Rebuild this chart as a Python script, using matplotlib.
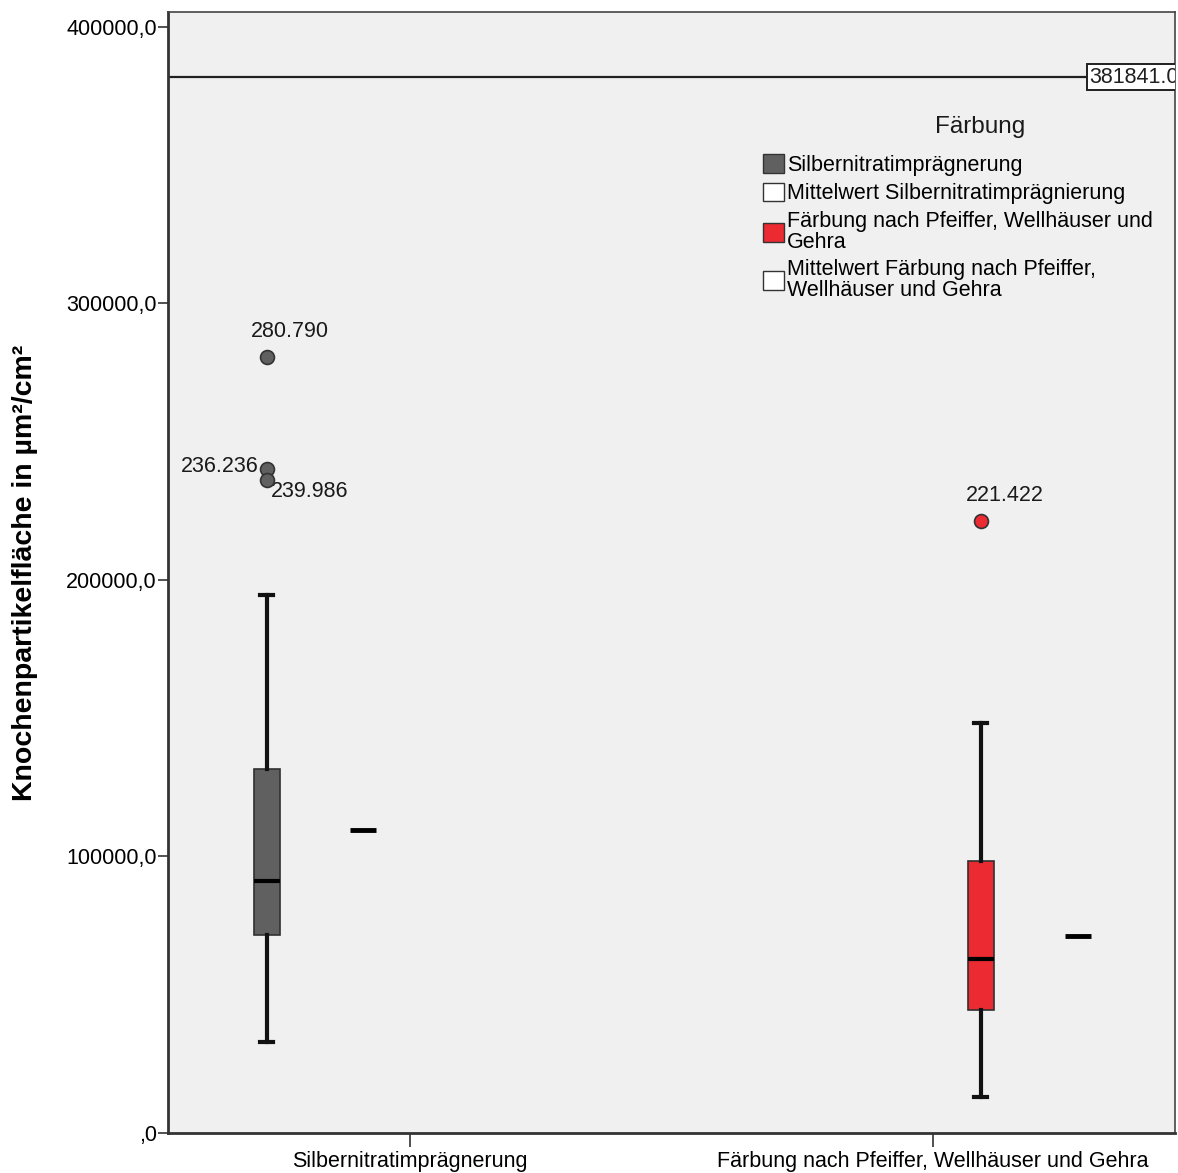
import matplotlib.pyplot as plt
from matplotlib.patches import Patch

plt.rcParams['font.family'] = ['Liberation Sans', 'DejaVu Sans']

categories = ['Silbernitratimprägnerung', 'Färbung nach Pfeiffer, Wellhäuser und Gehra']
q1 = [71600, 44600]
median = [91100, 62900]
q3 = [131500, 98400]
whisker_low = [32900, 12900]
whisker_high = [194500, 148400]
means = [109600, 71300]
outliers = [[280790, 239986, 236236], [221422]]
outlier_labels = [['280.790', '236.236', '239.986'], ['221.422']]
reference_value = 381841.0
y_ticks = [0, 100000, 200000, 300000, 400000]

box_colors = ['#606060', '#EC2A32']
legend_title = 'Färbung'
legend_labels = ['Silbernitratimprägnerung',
                 'Mittelwert Silbernitratimprägnierung',
                 'Färbung nach Pfeiffer, Wellhäuser und\nGehra',
                 'Mittelwert Färbung nach Pfeiffer,\nWellhäuser und Gehra']

# Positionen: Box von Gruppe 1 links in Kategorie 1, Box von Gruppe 2 rechts in Kategorie 2
box_pos = [0 - 0.274, 1 + 0.092]
mean_pos = [0 - 0.090, 1 + 0.278]

fs = 15.5

fig = plt.figure(figsize=(11.78, 11.73), dpi=100)
ax = fig.add_axes([168 / 1178, 40 / 1173, 1007 / 1178, 1121 / 1173])
ax.set_facecolor('#F0F0F0')

# Referenzlinie
ax.axhline(reference_value, color='#202020', linewidth=1.6, zorder=2)
ax.annotate('%.1f' % reference_value, (1.0, reference_value), xycoords=ax.get_yaxis_transform(),
            xytext=(4, 0), textcoords='offset pixels',
            ha='right', va='center', fontsize=fs, color='#202020',
            bbox=dict(boxstyle='square,pad=0.1', facecolor='white', edgecolor='#202020', linewidth=1.4),
            zorder=5, annotation_clip=False, clip_on=True)

stats = []
for i in range(2):
    stats.append(dict(med=median[i], q1=q1[i], q3=q3[i], whislo=whisker_low[i],
                      whishi=whisker_high[i], fliers=[]))

for i in range(2):
    ax.bxp([stats[i]], positions=[box_pos[i]], widths=0.05, patch_artist=True,
           showfliers=False, manage_ticks=False,
           boxprops=dict(facecolor=box_colors[i], edgecolor='#303030', linewidth=1.2),
           medianprops=dict(color='black', linewidth=3),
           whiskerprops=dict(color='#111111', linewidth=3),
           capprops=dict(color='#111111', linewidth=3),
           capwidths=0.025)
    # Ausreisser
    ax.plot([box_pos[i]] * len(outliers[i]), outliers[i], 'o', markersize=10,
            markerfacecolor=box_colors[i], markeredgecolor='#333333', markeredgewidth=1.2,
            linestyle='none', zorder=4)
    # Mittelwert
    ax.hlines(means[i], mean_pos[i] - 0.025, mean_pos[i] + 0.025, color='black', linewidth=3.5)

# Beschriftungen der Ausreisser
lab_kw = dict(fontsize=fs, color='#1a1a1a')
ax.annotate(outlier_labels[0][0], (box_pos[0], outliers[0][0]), xytext=(23, 25),
            textcoords='offset pixels', ha='center', va='center', **lab_kw)
ax.annotate(outlier_labels[0][1], (box_pos[0], outliers[0][1]), xytext=(-8, 3),
            textcoords='offset pixels', ha='right', va='center', **lab_kw)
ax.annotate(outlier_labels[0][2], (box_pos[0], outliers[0][2]), xytext=(4, -12),
            textcoords='offset pixels', ha='left', va='center', **lab_kw)
ax.annotate(outlier_labels[1][0], (box_pos[1], outliers[1][0]), xytext=(24, 25),
            textcoords='offset pixels', ha='center', va='center', **lab_kw)

ax.set_xlim(-0.463, 1.464)
ax.set_ylim(0, 405400)
ax.set_xticks([0, 1])
ax.set_xticklabels(categories, fontsize=fs)
ax.set_yticks(y_ticks)
ax.set_yticklabels([('%.1f' % v).replace('.', ',') if v else ',0' for v in y_ticks], fontsize=fs)
ax.tick_params(axis='x', length=10, width=1.2, pad=3, color='#333333')
ax.tick_params(axis='y', length=7, width=1.2, pad=1, color='#333333')
ax.set_ylabel('Knochenpartikelfläche in µm²/cm²', fontsize=20.5, fontweight='bold', labelpad=20)

for side in ['left', 'bottom']:
    ax.spines[side].set_linewidth(2)
    ax.spines[side].set_color('#333333')
for side in ['top', 'right']:
    ax.spines[side].set_linewidth(1.2)
    ax.spines[side].set_color('#444444')

# Legende (Titel separat gesetzt)
ax.text(0.806, 0.897, legend_title, transform=ax.transAxes, ha='center', va='center',
        fontsize=17.5, color='#1a1a1a')
handles = [Patch(facecolor=box_colors[0], edgecolor='#333333'),
           Patch(facecolor='white', edgecolor='#333333'),
           Patch(facecolor=box_colors[1], edgecolor='#333333'),
           Patch(facecolor='white', edgecolor='#333333')]
leg = ax.legend(handles, legend_labels, loc='upper left',
                bbox_to_anchor=(0.591, 0.873), frameon=False, fontsize=fs,
                handlelength=0.95, handleheight=0.95, borderpad=0,
                handletextpad=0.15, labelspacing=0.3, borderaxespad=0)
for t in leg.get_texts():
    t.set_linespacing(1.0)

fig.savefig('out.png', dpi=100)
